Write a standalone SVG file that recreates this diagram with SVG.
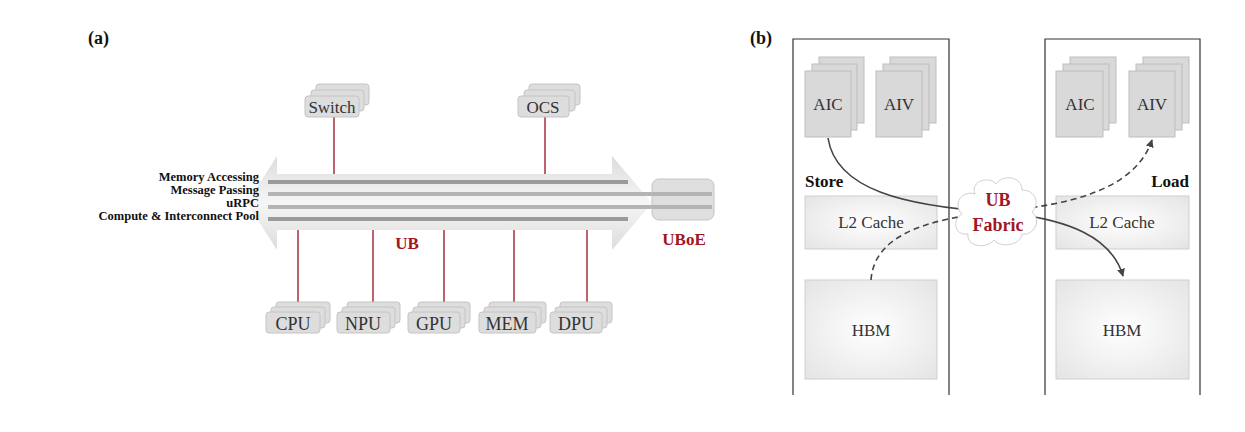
<svg xmlns="http://www.w3.org/2000/svg" width="1245" height="432" viewBox="0 0 1245 432">
<style>
.t{font-family:"Liberation Serif","Times New Roman",serif;fill:#333}
.b{font-family:"Liberation Serif","Times New Roman",serif;font-weight:bold;fill:#111}
.r{font-family:"Liberation Serif","Times New Roman",serif;font-weight:bold;fill:#a3161f}
.sb{fill:#dddddd;stroke:#c4c4c4;stroke-width:1}
.pg{fill:#d9d9d9;stroke:#bdbdbd;stroke-width:1}
.red{stroke:#a3303c;stroke-width:1.5}
.frame{fill:none;stroke:#333;stroke-width:1.2}
.mem{fill:url(#mg);stroke:#cfcfcf;stroke-width:1}
</style>
<defs>
<linearGradient id="ag" x1="0" y1="0" x2="0" y2="1">
<stop offset="0" stop-color="#dcdcdc"/><stop offset="0.5" stop-color="#f6f6f6"/><stop offset="1" stop-color="#dcdcdc"/>
</linearGradient>
<radialGradient id="mg" cx="0.5" cy="0.5" r="0.7">
<stop offset="0" stop-color="#ffffff"/><stop offset="1" stop-color="#e4e4e4"/>
</radialGradient>
<marker id="ah" viewBox="0 0 10 10" refX="9" refY="5" markerWidth="8" markerHeight="8" markerUnits="userSpaceOnUse" orient="auto">
<path d="M0,0 L10,5 L0,10 z" fill="#444"/>
</marker>
</defs>
<rect width="1245" height="432" fill="#fff"/>

<text class="b" x="88" y="44" font-size="18">(a)</text>
<text class="b" x="750" y="44" font-size="18">(b)</text>

<g id="ub-arrow">
<polygon points="247,203 277,156 277,174 612,174 612,156 652,203 612,250 612,230 277,230 277,250" fill="url(#ag)"/>
<line x1="268" y1="182" x2="628" y2="182" stroke="#9a9a9a" stroke-width="4"/>
<line x1="268" y1="194" x2="712" y2="194" stroke="#b4b4b4" stroke-width="4"/>
<line x1="268" y1="207" x2="712" y2="207" stroke="#b4b4b4" stroke-width="4"/>
<line x1="268" y1="219" x2="628" y2="219" stroke="#9a9a9a" stroke-width="4"/>
<text class="r" x="407" y="249" font-size="17" text-anchor="middle">UB</text>
</g>
<g id="labels">
<text class="b" x="259" y="181" font-size="12.5" text-anchor="end">Memory Accessing</text>
<text class="b" x="259" y="194" font-size="12.5" text-anchor="end">Message Passing</text>
<text class="b" x="259" y="207" font-size="12.5" text-anchor="end">uRPC</text>
<text class="b" x="259" y="220" font-size="12.5" text-anchor="end">Compute &amp; Interconnect Pool</text>
</g>
<g id="uboe">
<rect x="652" y="179" width="62" height="41" rx="7" fill="#dcdcdc" fill-opacity="0.9" stroke="#c4c4c4"/>
<line x1="652" y1="194" x2="712" y2="194" stroke="#b4b4b4" stroke-width="4"/>
<line x1="652" y1="207" x2="712" y2="207" stroke="#b4b4b4" stroke-width="4"/>
<text class="r" x="684" y="245" font-size="17" text-anchor="middle">UBoE</text>
</g>

<g id="connectors-a">
<line class="red" x1="334" y1="117" x2="334" y2="174"/>
<line class="red" x1="545" y1="117" x2="545" y2="174"/>
<line class="red" x1="298" y1="230" x2="298" y2="303"/>
<line class="red" x1="373" y1="230" x2="373" y2="303"/>
<line class="red" x1="444" y1="230" x2="444" y2="303"/>
<line class="red" x1="514" y1="230" x2="514" y2="303"/>
<line class="red" x1="587" y1="230" x2="587" y2="303"/>
</g>

<g id="switch">
<rect class="sb" x="316" y="84" width="53" height="21" rx="3"/>
<rect class="sb" x="311" y="90" width="53" height="21" rx="3"/>
<rect class="sb" x="305" y="96" width="54" height="21" rx="3"/>
<text class="t" x="332" y="113" font-size="17" text-anchor="middle">Switch</text>
</g>
<g id="ocs">
<rect class="sb" x="529" y="84" width="51" height="21" rx="3"/>
<rect class="sb" x="524" y="90" width="51" height="21" rx="3"/>
<rect class="sb" x="518" y="96" width="51" height="21" rx="3"/>
<text class="t" x="543" y="113" font-size="17" text-anchor="middle">OCS</text>
</g>
<g id="cpu">
<rect class="sb" x="276" y="302" width="54" height="21" rx="3"/>
<rect class="sb" x="271" y="307" width="54" height="21" rx="3"/>
<rect class="sb" x="266" y="312" width="54" height="21" rx="3"/>
<text class="t" x="293" y="330" font-size="18" text-anchor="middle">CPU</text>
</g>
<g id="npu">
<rect class="sb" x="347" y="302" width="53" height="21" rx="3"/>
<rect class="sb" x="342" y="307" width="53" height="21" rx="3"/>
<rect class="sb" x="337" y="312" width="53" height="21" rx="3"/>
<text class="t" x="363" y="330" font-size="18" text-anchor="middle">NPU</text>
</g>
<g id="gpu">
<rect class="sb" x="418" y="302" width="52" height="21" rx="3"/>
<rect class="sb" x="413" y="307" width="52" height="21" rx="3"/>
<rect class="sb" x="408" y="312" width="52" height="21" rx="3"/>
<text class="t" x="434" y="330" font-size="18" text-anchor="middle">GPU</text>
</g>
<g id="mem">
<rect class="sb" x="489" y="302" width="57" height="21" rx="3"/>
<rect class="sb" x="484" y="307" width="57" height="21" rx="3"/>
<rect class="sb" x="479" y="312" width="57" height="21" rx="3"/>
<text class="t" x="507" y="330" font-size="18" text-anchor="middle">MEM</text>
</g>
<g id="dpu">
<rect class="sb" x="560" y="302" width="52" height="21" rx="3"/>
<rect class="sb" x="555" y="307" width="52" height="21" rx="3"/>
<rect class="sb" x="550" y="312" width="52" height="21" rx="3"/>
<text class="t" x="576" y="330" font-size="18" text-anchor="middle">DPU</text>
</g>

<!-- panel b -->
<g id="left-chip">
<path class="frame" d="M793,395 V39 H949 V395"/>
<text class="b" x="805" y="187" font-size="17">Store</text>
</g>
<g id="left-aic">
<rect class="pg" x="819" y="57" width="45" height="66"/>
<rect class="pg" x="812" y="64" width="45" height="66"/>
<rect class="pg" x="805" y="71" width="46" height="66"/>
<text class="t" x="828" y="110" font-size="17" text-anchor="middle">AIC</text>
</g>
<g id="left-aiv">
<rect class="pg" x="890" y="57" width="46" height="66"/>
<rect class="pg" x="883" y="64" width="46" height="66"/>
<rect class="pg" x="876" y="71" width="46" height="66"/>
<text class="t" x="899" y="110" font-size="17" text-anchor="middle">AIV</text>
</g>
<g id="left-l2">
<rect class="mem" x="805" y="196" width="132" height="53"/>
<text class="t" x="871" y="228" font-size="17" text-anchor="middle">L2 Cache</text>
</g>
<g id="left-hbm">
<rect class="mem" x="805" y="280" width="132" height="99"/>
<text class="t" x="871" y="336" font-size="17" text-anchor="middle">HBM</text>
</g>

<g id="right-chip">
<path class="frame" d="M1045,395 V39 H1200 V395"/>
<text class="b" x="1189" y="187" font-size="17" text-anchor="end">Load</text>
</g>
<g id="right-aic">
<rect class="pg" x="1070" y="57" width="46" height="66"/>
<rect class="pg" x="1063" y="64" width="46" height="66"/>
<rect class="pg" x="1056" y="71" width="47" height="66"/>
<text class="t" x="1080" y="110" font-size="17" text-anchor="middle">AIC</text>
</g>
<g id="right-aiv">
<rect class="pg" x="1143" y="57" width="46" height="66"/>
<rect class="pg" x="1136" y="64" width="46" height="66"/>
<rect class="pg" x="1129" y="71" width="46" height="66"/>
<text class="t" x="1152" y="110" font-size="17" text-anchor="middle">AIV</text>
</g>
<g id="right-l2">
<rect class="mem" x="1056" y="196" width="133" height="53"/>
<text class="t" x="1122" y="228" font-size="17" text-anchor="middle">L2 Cache</text>
</g>
<g id="right-hbm">
<rect class="mem" x="1056" y="280" width="133" height="99"/>
<text class="t" x="1122" y="336" font-size="17" text-anchor="middle">HBM</text>
</g>

<g id="connectors-b" fill="none">
<path d="M828,138 C836,190 905,206 995,212 C1070,218 1112,238 1123,276" stroke="#444" stroke-width="1.6" marker-end="url(#ah)"/>
<path d="M871,280 C874,236 925,219 995,212 C1070,205 1135,190 1152,140" stroke="#444" stroke-width="1.6" stroke-dasharray="6,4" marker-end="url(#ah)"/>
</g>

<g id="ub-fabric">
<path d="M975,194 C970,180 990,176 996,184 C1002,174 1022,176 1022,190 C1036,190 1040,204 1032,212 C1042,220 1034,236 1022,234 C1020,246 1000,248 994,240 C986,250 966,246 968,234 C954,236 952,220 962,214 C952,204 962,190 975,194 Z" fill="#fff" stroke="#cfcfcf" stroke-width="1"/>
<text class="r" x="998" y="206" font-size="18" text-anchor="middle">UB</text>
<text class="r" x="998" y="231" font-size="18" text-anchor="middle">Fabric</text>
</g>
</svg>
